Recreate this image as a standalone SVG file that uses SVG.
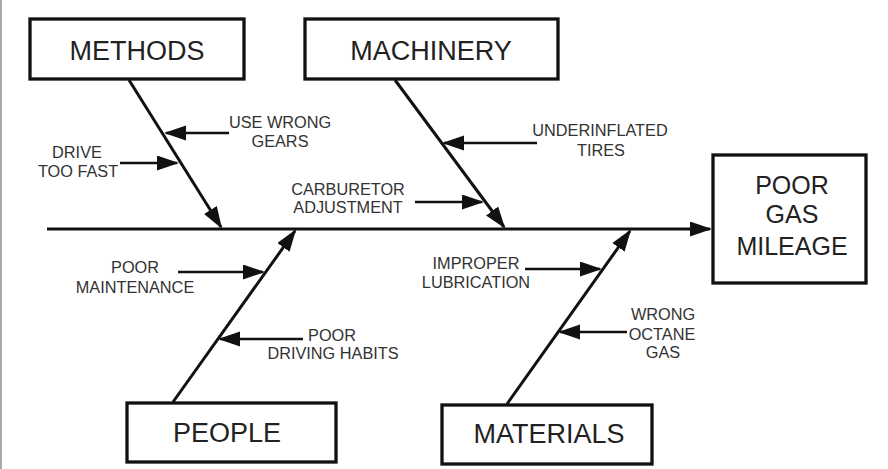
<svg xmlns="http://www.w3.org/2000/svg" width="888" height="469" viewBox="0 0 888 469">
<style>
.box{fill:#fff;stroke:#111;stroke-width:3.3}
.big{font-family:"Liberation Sans",Arial,sans-serif;font-size:27px;fill:#222;text-anchor:middle}
.res{font-family:"Liberation Sans",Arial,sans-serif;font-size:25px;fill:#222;text-anchor:middle}
.lbl{font-family:"Liberation Sans",Arial,sans-serif;font-size:16.3px;fill:#333;text-anchor:middle}
.bone{stroke:#111;stroke-width:3;fill:none;marker-end:url(#ah)}
.sub{stroke:#111;stroke-width:2.5;fill:none;marker-end:url(#ah)}
</style>
<defs>
<marker id="ah" markerUnits="userSpaceOnUse" markerWidth="24" markerHeight="16" refX="20" refY="7.5" orient="auto">
<path d="M0,0 L22,7.5 L0,15 z" fill="#111"/>
</marker>
</defs>
<rect x="0" y="0" width="888" height="469" fill="#fff"/>
<rect x="0" y="0" width="2" height="469" fill="#aaa"/>
<g id="connectors">
<line class="bone" x1="47" y1="229" x2="710" y2="229"/>
<line class="bone" x1="129" y1="80" x2="221" y2="227"/>
<line class="bone" x1="395" y1="80" x2="504" y2="227"/>
<line class="bone" x1="173" y1="402" x2="295" y2="231"/>
<line class="bone" x1="507" y1="404" x2="630" y2="231"/>
<line class="sub" x1="229" y1="133" x2="166" y2="133"/>
<line class="sub" x1="120" y1="163" x2="177" y2="163"/>
<line class="sub" x1="415" y1="202" x2="482" y2="202"/>
<line class="sub" x1="537" y1="143" x2="444" y2="143"/>
<line class="sub" x1="178" y1="272" x2="263" y2="272"/>
<line class="sub" x1="303" y1="339" x2="220" y2="339"/>
<line class="sub" x1="525" y1="269" x2="600" y2="269"/>
<line class="sub" x1="627" y1="332" x2="560" y2="332"/>
</g>
<g id="methods">
<rect class="box" x="30" y="19" width="214" height="60"/>
<text class="big" x="137" y="60">METHODS</text>
</g>
<g id="machinery">
<rect class="box" x="305" y="19" width="253" height="60"/>
<text class="big" x="431" y="60">MACHINERY</text>
</g>
<g id="result">
<rect class="box" x="713" y="155" width="153" height="128"/>
<text class="res" x="792" y="194">POOR</text>
<text class="res" x="792" y="223">GAS</text>
<text class="res" x="792" y="255">MILEAGE</text>
</g>
<g id="people">
<rect class="box" x="127" y="403" width="209" height="59"/>
<text class="big" x="227" y="442">PEOPLE</text>
</g>
<g id="materials">
<rect class="box" x="442" y="405" width="210" height="59"/>
<text class="big" x="549" y="443">MATERIALS</text>
</g>
<g id="cause-use-wrong-gears">
<text class="lbl" x="280" y="128">USE WRONG</text>
<text class="lbl" x="280" y="147">GEARS</text>
</g>
<g id="cause-drive-too-fast">
<text class="lbl" x="77" y="158">DRIVE</text>
<text class="lbl" x="78" y="177">TOO FAST</text>
</g>
<g id="cause-carburetor">
<text class="lbl" x="348" y="195">CARBURETOR</text>
<text class="lbl" x="348" y="213">ADJUSTMENT</text>
</g>
<g id="cause-tires">
<text class="lbl" x="600" y="136">UNDERINFLATED</text>
<text class="lbl" x="601" y="156">TIRES</text>
</g>
<g id="cause-maintenance">
<text class="lbl" x="135" y="273">POOR</text>
<text class="lbl" x="135" y="293">MAINTENANCE</text>
</g>
<g id="cause-driving-habits">
<text class="lbl" x="332" y="341">POOR</text>
<text class="lbl" x="333" y="359">DRIVING HABITS</text>
</g>
<g id="cause-lubrication">
<text class="lbl" x="476" y="269">IMPROPER</text>
<text class="lbl" x="476" y="288">LUBRICATION</text>
</g>
<g id="cause-octane">
<text class="lbl" x="663" y="320">WRONG</text>
<text class="lbl" x="662" y="340">OCTANE</text>
<text class="lbl" x="663" y="358">GAS</text>
</g>
</svg>
